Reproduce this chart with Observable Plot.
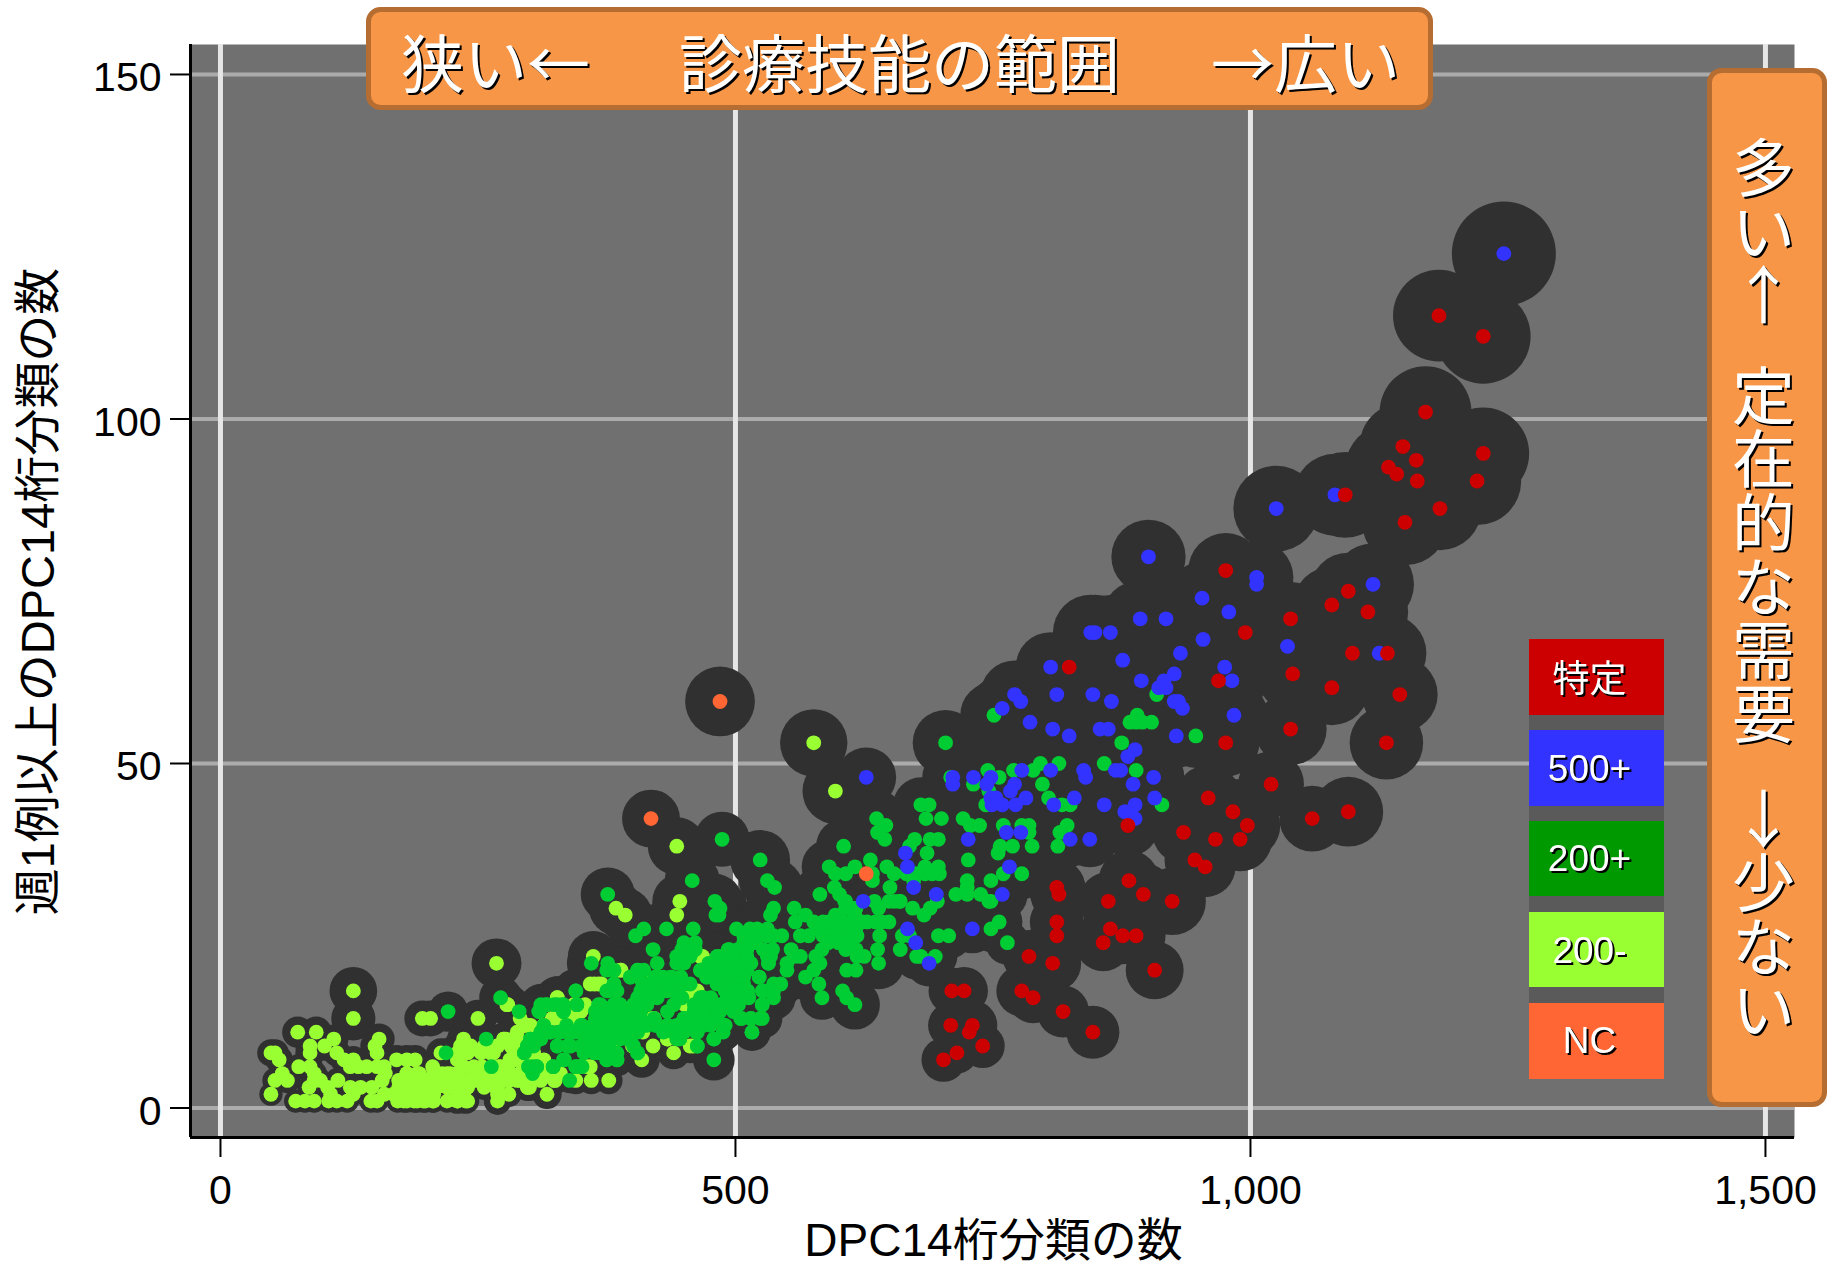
<!DOCTYPE html>
<html lang="ja">
<head>
<meta charset="utf-8">
<script src="https://cdn.jsdelivr.net/npm/d3@7"></script>
<script src="https://cdn.jsdelivr.net/npm/@observablehq/plot@0.6"></script>
<style>
html,body{margin:0;padding:0;background:#fff}
svg{display:block}
.sh{filter:drop-shadow(2px 2px 0 #000)}
</style>
</head>
<body>
<div id="chart"></div>
<script>
// Each point: [DPC14桁分類の数, 週1例以上のDPC14桁分類の数, bubble weight]
const red = [[1183,115,78],[1226,112,83],[1170,101,78],[1226,95,78],[1148,96,70],[1161,94,70],[1134,93,68],[1142,92,68],[1162,91,70],[1220,91,72],[1092,89,68],[1184,87,64],[1150,85,68],[976,78,52],[1039,71,50],[995,69,50],[1095,75,55],[1079,73,55],[1114,72,60],[1099,66,55],[1133,66,56],[1041,63,50],[1079,61,52],[1145,60,53],[1039,55,48],[1132,53,50],[969,62,48],[976,53,42],[1020,47,40],[959,45,40],[983,43,40],[997,41,40],[935,40,36],[966,39,38],[990,39,38],[946,36,34],[956,35,34],[882,33,34],[1060,42,40],[1095,43,45],[881,41,36],[824,64,38],[812,32,30],[814,31,30],[896,31,36],[862,30,32],[924,30,42],[864,26,30],[876,25,30],[889,25,32],[857,24,30],[907,20,31],[812,27,27],[812,25,27],[785,22,26],[808,21,30],[778,17,24],[789,16,24],[818,14,25],[847,11,26],[710,17,20],[722,17,21],[709,12,19],[730,12,23],[727,11,20],[740,9,18],[715,8,16],[702,7,18]];
const blue = [[1246,124,100],[1082,89,62],[901,80,51],[1025,87,68],[1006,77,50],[1006,76,50],[953,74,48],[979,72,48],[893,71,55],[918,71,50],[864,69,52],[1119,76,62],[1125,66,52],[1036,67,46],[975,64,44],[982,62,44],[984,57,42],[954,68,44],[932,66,43],[876,65,42],[894,62,42],[926,63,42],[916,62,42],[911,61,41],[918,61,41],[865,59,41],[926,59,40],[930,59,40],[934,58,40],[854,55,38],[862,55,38],[928,54,38],[888,52,36],[881,51,36],[869,49,36],[874,49,36],[906,48,35],[886,47,35],[907,45,34],[888,44,34],[858,44,34],[878,43,34],[888,42,34],[806,64,45],[845,69,53],[849,69,53],[771,60,43],[777,59,42],[812,60,40],[847,60,42],[759,58,40],[786,56,38],[808,55,36],[824,54,36],[778,49,32],[806,49,33],[838,49,34],[840,48,34],[711,48,30],[711,47,30],[731,48,30],[748,48,31],[744,47,30],[771,47,31],[767,46,31],[782,45,31],[829,45,32],[753,45,30],[748,45,30],[749,44,30],[759,44,30],[772,44,30],[809,44,31],[627,48,33],[763,40,28],[777,40,28],[825,39,28],[844,39,29],[726,39,26],[665,37,26],[667,35,25],[766,35,27],[673,32,24],[695,31,24],[759,31,24],[624,30,25],[730,26,22],[667,26,22],[675,24,22],[688,21,20]];
const green = [[909,60,40],[890,57,38],[883,56,38],[889,56,38],[895,56,38],[904,56,38],[947,54,38],[875,53,36],[858,50,36],[889,49,36],[914,44,34],[751,57,42],[704,53,40],[796,50,34],[814,50,35],[745,49,31],[770,49,31],[789,49,32],[709,48,30],[731,47,30],[756,48,31],[746,46,30],[798,47,32],[804,45,32],[743,44,29],[817,44,31],[825,44,31],[680,44,28],[688,44,28],[685,42,27],[700,42,27],[637,42,30],[646,41,29],[638,40,28],[645,39,28],[721,42,27],[728,41,27],[737,41,27],[760,41,28],[778,41,28],[785,41,28],[785,40,28],[822,41,29],[815,40,29],[689,39,25],[697,39,25],[674,39,25],[669,38,25],[605,38,28],[757,38,26],[769,38,26],[788,38,26],[813,38,27],[755,37,26],[686,37,25],[631,36,27],[726,36,24],[591,35,28],[616,35,27],[647,35,26],[684,35,23],[697,35,23],[597,34,28],[607,34,27],[633,34,26],[633,33,26],[654,34,24],[666,34,24],[675,34,23],[684,34,23],[691,34,23],[698,34,23],[760,34,24],[778,34,24],[748,33,24],[725,33,22],[673,33,22],[650,32,24],[596,32,26],[582,31,28],[601,31,26],[714,31,22],[725,32,22],[725,31,22],[738,31,22],[748,30,22],[635,30,24],[654,30,23],[660,30,22],[607,30,26],[746,30,22],[756,27,20],[748,26,20],[764,24,18],[697,25,20],[707,25,20],[694,22,18],[696,30,20],[689,29,20],[683,28,20],[680,22,18],
[487,39,28],[524,36,33],[458,33,28],[531,33,30],[538,32,30],[537,29,28],[534,28,28],[480,30,28],[485,29,28],[481,28,27],[484,28,27],[376,31,27],[411,26,24],[403,25,24],[433,26,25],[459,26,25],[420,23,23],[424,21,22],[443,21,22],[360,21,22],[376,21,22],[382,20,22],[405,20,21],[398,19,20],[410,18,20],[382,18,20],[377,17,18],[383,17,18],[345,17,18],[346,15,17],[316,15,16],[324,15,16],[332,15,16],[310,14,16],[333,14,16],[290,14,16],[272,16,17],
[501,26,24],[514,26,24],[521,26,24],[531,26,24],[537,25,24],[545,25,24],[557,29,26],[558,27,25],[568,28,26],[576,27,25],[579,26,25],[563,25,24],[571,25,24],[591,26,24],[597,28,25],[597,27,25],[597,25,24],[605,25,24],[608,26,24],[617,26,24],[623,27,25],[616,28,24],[621,27,24],[612,29,26],[606,30,26],[628,27,24],[636,27,24],[642,27,24],[649,27,24],[640,25,24],[638,23,24],[639,21,25],[660,23,22],[662,25,22],[669,25,22],[676,22,20],[608,20,22],[617,20,22],[604,17,20],[608,16,20],[616,15,23],[584,16,18],[581,18,19],[568,19,20],[576,20,21],[582,21,22],[550,21,21],[550,20,21],[557,22,22],[563,22,22],[554,23,23],[584,23,23],[578,22,22],[607,23,22],[617,23,22],[625,22,21],[618,22,21],[639,29,24],[649,30,24],[659,30,23],[672,29,22],
[450,24,24],[461,24,24],[448,22,23],[456,22,23],[450,21,22],[494,23,23],[485,22,22],[479,21,22],[472,20,21],[466,20,21],[472,19,20],[508,24,24],[519,24,24],[511,23,23],[498,22,22],[505,22,22],[515,21,22],[498,21,21],[495,19,20],[502,19,20],[531,22,22],[536,23,23],[532,21,22],[523,19,20],[485,18,19],[495,18,19],[505,17,18],[498,16,18],[492,16,18],[513,16,18],[526,17,18],[537,18,19],[544,18,19],[537,16,18],[526,15,17],[468,16,18],[479,14,16],[498,14,16],[482,13,15],[489,12,14],[506,13,15],[515,13,15],[526,13,15],[488,11,13],[479,10,13],[516,11,13],[479,7,16],[463,9,11],[462,11,12],[446,10,12],[434,12,13],[450,13,14],[463,14,15],[469,12,13],[456,12,13],[405,8,11],[385,7,10],[375,7,10],[377,9,10],[395,10,11],[353,8,10],[366,8,10],[348,6,8],[334,7,9],[323,6,8],[303,6,8],[307,6,8],[303,5,7],[339,4,6],
[314,11,13],[320,11,13],[328,11,13],[337,11,13],[345,11,13],[353,11,13],[359,11,13],[301,10,11],[309,10,12],[295,8,9],[327,9,11],[338,9,11],[351,12,13],[367,15,16],[364,14,15],[372,14,15],[382,15,16],[388,15,16],[364,13,15],[375,13,15],[383,13,15],[393,13,15],[369,12,13],[383,12,13],[401,12,13],[411,12,13],[422,12,13],[401,15,16],[411,15,16],[421,17,18],[430,17,18],[440,17,18],[408,16,17],[417,18,19],[427,19,20],[437,19,20],[448,16,18],[440,15,16],[434,14,16],[460,14,15],[469,16,17],[479,15,16],[472,14,15],
[219,8,8],[221,14,15],[258,10,10],[263,6,8],[311,11,12],[298,9,10],[304,9,10],[340,9,11],[353,9,11],[363,8,10],[345,6,8]];
// Dense stretches, read row by row: [y, bubble weight, x values]
const greenRows = [
[29,25,[607,617]],
[27,24,[585,590,605,612]],
[26,24,[585,600]],
[25,24,[508,515,524,531,585,590,612,618]],
[24,23,[590,600,605,610]],
[23,23,[448,456,461,493,502,511,527]],
[22,23,[443,453,482,490,498,511,534]],
[21,22,[474,485,498,511,532]],
[20,21,[375,382,405,411,466,477,490,495,502,503,511]],
[19,20,[398,406,422,430,438,447,472,485,490,498,508,523]],
[18,19,[382,411,421,430,440,450,456,482,490,494,500,502,508]],
[17,18,[345,375,385,408,417,434,490,495,498,505,512,527,537]],
[16,17,[405,414,424,447,466,476,492,502]],
[15,16,[311,317,327,333,346,369,382,388,401,414,460,466,479,485,495,503,526]],
[14,15,[309,333,366,375,385,398,408,460,469,485]],
[13,15,[366,375,385,398,408,421,450,460,472,482,505,515,524]],
[12,13,[314,336,350,362,375,388,401,414,424,434,443,456,466,476,490]],
[11,12,[311,320,330,340,350,359,372,382,395,405,430,440,450,463,516]],
[10,11,[301,311,356,366,375,388,398,443,479]],
[9,10,[298,327,337,350,359,369,375,401,463]],
[8,10,[295,369,377,385,405]],
[7,9,[333,375,385]],
[6,8,[299,307,345,351,323]]
];
const lime = [[129,17,21],[129,13,18],[75,11,9],[93,11,9],[110,10,8],[101,9,8],[87,9,8],[87,8,8],[154,10,9],[150,9,8],[152,8,8],[49,8,7],[53,8,7],[57,7,7],[171,7,8],[181,7,8],[189,7,8],[113,8,7],[120,7,7],[129,7,7],[126,6,6],[134,6,6],[142,6,6],[152,6,6],[159,6,6],[160,5,6],[157,4,6],[76,6,6],[87,6,6],[91,5,6],[91,4,6],[86,3,5],[60,5,6],[53,4,6],[65,4,6],[114,4,6],[49,2,5],[97,4,5],[104,3,5],[126,3,5],[136,3,5],[147,3,5],[73,1,5],[82,1,5],[91,1,5],[107,2,5],[105,1,5],[113,1,5],[123,1,5],[129,2,5],[146,1,5],[152,1,5],[159,2,5],[168,2,5],[172,1,5],[181,1,5],[191,1,5],[199,1,5],[206,1,5],[173,4,6],[181,5,6],[193,5,6],[188,4,6],[173,3,5],[184,3,5],[194,3,5],[181,2,5],[191,2,5],[206,6,7],[202,4,6],[212,4,6],[204,3,6],[220,4,6],[215,5,7],[230,5,7],[223,5,7],[238,9,9],[235,8,8],[230,7,8],[236,6,7],[214,8,8],[230,4,6],[236,4,6],[243,4,6],[227,3,6],[236,3,6],[230,2,6],[236,2,6],[230,1,6],[238,1,6],[196,13,12],[204,13,12],[250,13,13],[268,21,23],[279,15,16],[295,12,13],[301,12,13],[275,10,10],[285,9,10],[269,9,10],[262,8,10],[285,8,10],[295,9,10],[246,6,8],[254,6,8],[270,6,8],[248,5,7],[256,5,7],[272,5,7],[282,5,7],[256,4,7],[267,4,7],[280,4,7],[291,4,7],[269,3,7],[269,2,7],[269,1,7],[298,3,7],[285,7,8],[293,7,8],[301,7,8],[311,4,7],[325,4,7],[317,5,7],[317,2,8],[350,6,8],[359,6,8],[362,22,24],[363,18,20],[370,18,20],[327,16,17],[384,29,27],[393,28,27],[443,38,31],[446,30,28],[443,28,27],[597,46,40],[576,53,42],[359,18,20],[367,18,20],[389,20,21],[411,19,20],[421,13,14],[458,17,17],[463,17,17],[451,15,15],[278,15,16],[296,12,13],[288,11,12],[314,12,13],[327,13,14],[277,10,10],[291,9,10],[377,10,11],[343,13,14],[350,14,15],[434,10,11],[456,9,11],[409,7,12],[356,6,8],[468,22,22],[377,4,7],[314,7,8],[304,8,9],[291,5,7],[272,6,8],[330,5,7],[420,9,10],[410,11,11],[400,9,10],[440,8,10],[345,4,7],[360,4,7],[300,3,7],[280,2,6]];
const limeRows = [
[22,22,[466]],[20,21,[388]],[19,20,[414]],[17,17,[460]],[16,17,[327]],
[15,16,[343,354,453]],[14,15,[346]],[13,14,[291,322,340,419]],[12,13,[299,314]],
[10,10,[236,275,288,385,434]],[9,10,[233,243,256,269,282,459]],[8,9,[230,240,253,265,304]],[7,8,[281,288]],
[6,8,[314]],
[5,7,[181,191,207,220,230,246,256,269,282,291,304,314]],
[4,6,[178,188,197,207,217,227,236,249,259,269,278,288,298,324]],
[3,6,[181,191,201,210,220,230,240,256,267,298]],
[2,5,[178,188,197,207]],
[1,5,[178,188,197,207,220,230,240]]
];
const orange = [[485,59,45],[418,42,31],[627,34,28]];

const xTicks = [0,500,1000,1500];
const yTicks = [0,50,100,150];
const xLabel = "DPC14桁分類の数";
const yLabel = "週1例以上のDPC14桁分類の数";
const legendLabels = ["特定","500+","200+","200-","NC"];
const legendColors = ["#cc0000","#3333ff","#009900","#99ff33","#ff6633"];
const categories = ["200-","200+","500+","特定","NC"];
const pointColors = ["#99ff33","#00cc33","#3333ff","#cc0000","#ff6633"];
const fromRows = rows => rows.flatMap(([y,w,xs]) => xs.map(x => [x,y,w]));
const seriesByCat = [[...lime,...fromRows(limeRows)],[...green,...fromRows(greenRows)],blue,red,orange];

const points = seriesByCat.flatMap((s,i)=>s.map(([x,y,w])=>({x,y,w,cat:categories[i]})));

// layout of the frame
const W=1831,H=1264,mL=190,mR=37,mT=44,mB=127;
const xDomain=[-29.1,1528.2], yDomain=[-4.28,154.35];
// annotation placement: page position → scale value (annotations only, not data)
const X=p=>xDomain[0]+(p-mL)/(W-mL-mR)*(xDomain[1]-xDomain[0]);
const Y=p=>yDomain[0]+(H-mB-p)/(H-mT-mB)*(yDomain[1]-yDomain[0]);

const legendTop=[639,730,821,912,1003], legendBottom=[715,806,896,987,1079], legendMid=[680,769,859,951,1041];
const legendRows=legendLabels.map((t,i)=>({t,c:legendColors[i],y1:Y(legendTop[i]),y2:Y(legendBottom[i]),y:Y(legendMid[i])}));

const jp="'Noto Sans CJK JP','Liberation Sans',sans-serif";
const shadowText=(rows,o)=>Plot.text(rows,{...o,fill:"#fff",className:"sh"});
const topRows=[{t:"狭い←",x:X(495)},{t:"診療技能の範囲",x:X(899)},{t:"→広い",x:X(1305)}];
const sideRows=[
  {t:"多\nい\n↑",y:Y(234)},
  {t:"定\n在\n的\nな\n需\n要",y:Y(557)},
  {t:"↓\n少\nな\nい",y:Y(917)}
];

const chart=Plot.plot({
  width:W,height:H,marginLeft:mL,marginRight:mR,marginTop:mT,marginBottom:mB,
  style:{fontFamily:"'Liberation Sans','Noto Sans CJK JP',sans-serif",background:"#fff",overflow:"visible"},
  x:{domain:xDomain,label:null},
  y:{domain:yDomain,label:null},
  r:{type:"sqrt",domain:[0,100],range:[0,52]},
  color:{domain:categories,range:pointColors},
  marks:[
    Plot.frame({fill:"#707070",stroke:null}),
    Plot.ruleY(yTicks,{stroke:"#ababab",strokeWidth:4}),
    Plot.ruleX(xTicks,{stroke:"#e6e6e6",strokeWidth:5}),
    Plot.ruleX([xDomain[0]],{stroke:"#000",strokeWidth:3}),
    Plot.ruleY([yDomain[0]],{stroke:"#000",strokeWidth:3}),
    Plot.axisX({ticks:xTicks,tickFormat:d3.format(","),tickSize:20,tickPadding:17,fontSize:41,strokeWidth:2,label:null,fill:"#000",stroke:"#000"}),
    Plot.axisY({ticks:yTicks,tickSize:20,fill:"none",strokeWidth:2,label:null,stroke:"#000"}),
    Plot.axisY({ticks:yTicks,tickSize:0,tickPadding:29,fontSize:41,dy:3.5,label:null,fill:"#000"}),
    Plot.text([xLabel],{x:X(993),y:Y(1241),text:d=>d,fontSize:46,fill:"#000"}),
    Plot.text([yLabel],{x:X(38),y:Y(591),text:d=>d,fontSize:47,fill:"#000",rotate:-90}),
    Plot.dot(points,{x:"x",y:"y",r:"w",fill:"#303030"}),
    Plot.dot(points,{x:"x",y:"y",r:7.4,fill:"cat"}),
    Plot.rect([0],{x1:X(1529),x2:X(1664),y1:Y(639),y2:Y(1079),fill:"#5a5a5a"}),
    Plot.rect(legendRows,{x1:X(1529),x2:X(1664),y1:"y1",y2:"y2",fill:"c"}),
    shadowText(legendRows,{x:X(1589),y:"y",text:"t",fontSize:37}),
    Plot.rect([0],{x1:X(368.5),x2:X(1430.5),y1:Y(9.5),y2:Y(107.5),fill:"#f79646",stroke:"#b66d31",strokeWidth:5,rx:12}),
    Plot.rect([0],{x1:X(1709.5),x2:X(1824.5),y1:Y(70.5),y2:Y(1104.5),fill:"#f79646",stroke:"#b66d31",strokeWidth:5,rx:12}),
    shadowText(topRows,{x:"x",y:Y(66),text:"t",fontSize:63,fontFamily:jp}),
    shadowText(sideRows,{x:X(1763),y:"y",text:"t",fontSize:63,lineHeight:1.01,lineAnchor:"middle",fontFamily:jp})
  ]
});
document.getElementById("chart").appendChild(chart);
</script>
</body>
</html>
